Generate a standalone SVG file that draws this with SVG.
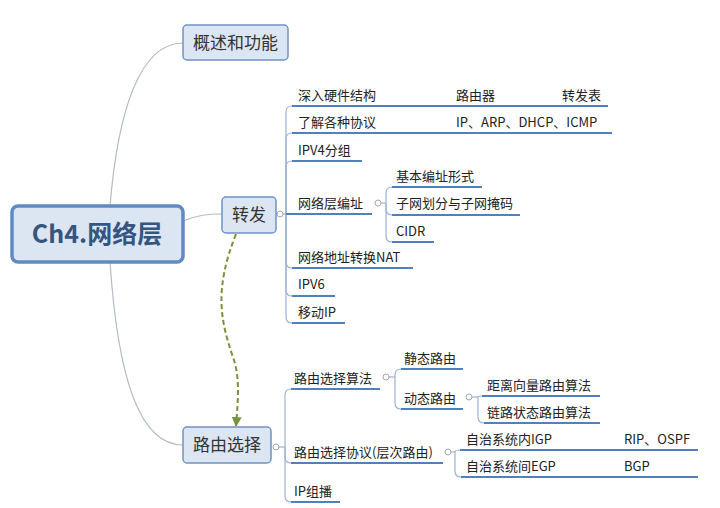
<svg xmlns="http://www.w3.org/2000/svg" width="720" height="508" viewBox="0 0 720 508">
<defs>
<style>
.box{fill:#dce6f2;stroke:#6f93c4;stroke-width:1.5}
.root{fill:#dce6f2;stroke:#5f8ac2;stroke-width:3.5}
.bt{font-family:"Noto Sans CJK SC","Noto Sans",sans-serif;font-size:17px;fill:#333;text-anchor:middle}
.rt{font-family:"Noto Sans CJK SC","Noto Sans",sans-serif;font-size:25px;font-weight:bold;fill:#34557f;text-anchor:middle}
.t{font-family:"Noto Sans CJK SC","Noto Sans",sans-serif;font-size:13px;fill:#222}
.main{fill:none;stroke:#b5bcc5;stroke-width:1.2}
.sp{fill:none;stroke:#9db3d3;stroke-width:1.2}
.ul{fill:none;stroke:#4f81bd;stroke-width:2}
.knob{fill:#fff;stroke:#a0a8b0;stroke-width:1}
.dash{fill:none;stroke:#77933c;stroke-width:2;stroke-dasharray:5 3}
</style>
<marker id="ah" viewBox="0 0 10 10" refX="9" refY="5" markerWidth="5" markerHeight="5" orient="auto"><path d="M0,0 L10,5 L0,10 Z" fill="#77933c"/></marker>
</defs>
<rect width="720" height="508" fill="#fff"/>
<g id="connectors">
<path class="main" d="M110,206 C118,110 140,43 183,43"/>
<path class="main" d="M183,221 C198,215 208,214 222,214"/>
<path class="main" d="M110,262 C118,380 140,445 183,445"/>
<path class="dash" d="M236,234 C214,290 220,320 234,360 C240,380 238,400 236,426" marker-end="url(#ah)"/>
<!-- 转发 children -->
<path class="sp" d="M276,214 L286,214"/>
<path class="sp" d="M286,214 L286,112 Q286,106 292,106"/>
<path class="sp" d="M286,214 L286,139 Q286,133 292,133"/>
<path class="sp" d="M286,214 L286,167 Q286,161 292,161"/>
<path class="sp" d="M286,214 L286,262 Q286,268 292,268"/>
<path class="sp" d="M286,214 L286,290 Q286,296 292,296"/>
<path class="sp" d="M286,214 L286,317 Q286,323 292,323"/>
<path class="ul" d="M292,106 L608,106"/>
<path class="ul" d="M292,133 L612,133"/>
<path class="ul" d="M292,161 L362,161"/>
<path class="ul" d="M286,214 L372,214"/>
<path class="ul" d="M292,268 L413,268"/>
<path class="ul" d="M292,296 L335,296"/>
<path class="ul" d="M292,323 L345,323"/>
<!-- 网络层编址 children -->
<path class="sp" d="M381,203 L386,203"/>
<path class="sp" d="M386,203 L386,193 Q386,187 392,187"/>
<path class="sp" d="M386,203 L386,209 Q386,215 392,215"/>
<path class="sp" d="M386,203 L386,236 Q386,242 392,242"/>
<path class="ul" d="M392,187 L482,187"/>
<path class="ul" d="M392,215 L520,215"/>
<path class="ul" d="M392,242 L434,242"/>
<!-- 路由选择 children -->
<path class="sp" d="M279,447 L285,447"/>
<path class="sp" d="M285,447 L285,395 Q285,389 291,389"/>
<path class="sp" d="M285,447 L285,457 Q285,463 291,463"/>
<path class="sp" d="M285,447 L285,496 Q285,502 291,502"/>
<path class="ul" d="M291,389 L380,389"/>
<path class="ul" d="M291,463 L443,463"/>
<path class="ul" d="M291,502 L340,502"/>
<!-- 路由选择算法 children -->
<path class="sp" d="M389,377 L395,377"/>
<path class="sp" d="M395,377 L395,375 Q395,369 401,369"/>
<path class="sp" d="M395,377 L395,403 Q395,409 401,409"/>
<path class="ul" d="M401,369 L463,369"/>
<path class="ul" d="M401,409 L463,409"/>
<!-- 动态路由 children -->
<path class="sp" d="M472,397 L478,397"/>
<path class="sp" d="M478,397 Q478,396 482,396"/>
<path class="sp" d="M478,397 L478,417 Q478,423 484,423"/>
<path class="ul" d="M482,396 L600,396"/>
<path class="ul" d="M484,423 L600,423"/>
<!-- 路由选择协议 children -->
<path class="sp" d="M451,452 L455,452"/>
<path class="sp" d="M455,452 Q455,450 460,450"/>
<path class="sp" d="M455,452 L455,471 Q455,477 461,477"/>
<path class="ul" d="M460,450 L698,450"/>
<path class="ul" d="M461,477 L698,477"/>
<circle class="knob" cx="280" cy="214" r="3"/>
<circle class="knob" cx="378" cy="203" r="3"/>
<circle class="knob" cx="276" cy="447" r="3"/>
<circle class="knob" cx="386" cy="377" r="3"/>
<circle class="knob" cx="469" cy="397" r="3"/>
<circle class="knob" cx="448" cy="452" r="3"/>
</g>
<g id="root"><rect class="root" x="12" y="206" width="171" height="56" rx="6"/><text class="rt" x="97" y="243">Ch4.网络层</text></g>
<g id="n-overview"><rect class="box" x="183" y="25" width="105" height="35" rx="4"/><text class="bt" x="235.5" y="49">概述和功能</text></g>
<g id="n-forward"><rect class="box" x="222" y="197" width="54" height="36" rx="4"/><text class="bt" x="249" y="221">转发</text></g>
<g id="n-routing"><rect class="box" x="183" y="427" width="88" height="36" rx="4"/><text class="bt" x="227" y="451">路由选择</text></g>
<g id="n-hw"><text class="t" x="298" y="100">深入硬件结构</text><text class="t" x="456" y="100">路由器</text><text class="t" x="562" y="100">转发表</text></g>
<g id="n-proto"><text class="t" x="298" y="127">了解各种协议</text><text class="t" x="456" y="127">IP、ARP、DHCP、ICMP</text></g>
<g id="n-ipv4"><text class="t" x="298" y="155">IPV4分组</text></g>
<g id="n-addr"><text class="t" x="298" y="208">网络层编址</text></g>
<g id="n-basic"><text class="t" x="396" y="181">基本编址形式</text></g>
<g id="n-subnet"><text class="t" x="396" y="208">子网划分与子网掩码</text></g>
<g id="n-cidr"><text class="t" x="396" y="236">CIDR</text></g>
<g id="n-nat"><text class="t" x="298" y="262">网络地址转换NAT</text></g>
<g id="n-ipv6"><text class="t" x="298" y="289">IPV6</text></g>
<g id="n-mip"><text class="t" x="298" y="317">移动IP</text></g>
<g id="n-algo"><text class="t" x="294" y="383">路由选择算法</text></g>
<g id="n-static"><text class="t" x="404" y="363">静态路由</text></g>
<g id="n-dynamic"><text class="t" x="404" y="403">动态路由</text></g>
<g id="n-dv"><text class="t" x="487" y="390">距离向量路由算法</text></g>
<g id="n-ls"><text class="t" x="487" y="417">链路状态路由算法</text></g>
<g id="n-rproto"><text class="t" x="294" y="457">路由选择协议(层次路由)</text></g>
<g id="n-igp"><text class="t" x="466" y="444">自治系统内IGP</text><text class="t" x="624" y="444">RIP、OSPF</text></g>
<g id="n-egp"><text class="t" x="466" y="471">自治系统间EGP</text><text class="t" x="624" y="471">BGP</text></g>
<g id="n-mcast"><text class="t" x="294" y="496">IP组播</text></g>
</svg>
